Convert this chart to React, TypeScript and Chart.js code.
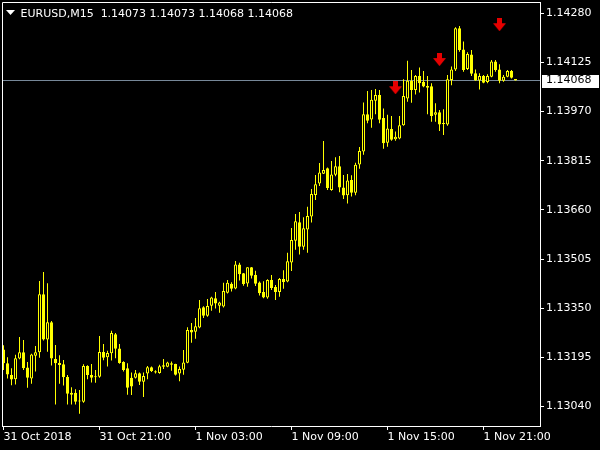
import React, { useEffect, useRef } from 'react';
import { Chart, registerables } from 'chart.js';

Chart.register(...registerables);

const symbolLabel = 'EURUSD,M15';

const opens = [
  1.13220, 1.13176, 1.13139, 1.13126, 1.13191, 1.13211, 1.13163, 1.13128, 1.13200, 1.13211,
  1.13394, 1.13251, 1.13306, 1.13190, 1.13177, 1.13173, 1.13133, 1.13083, 1.13083, 1.13056,
  1.13055, 1.13168, 1.13139, 1.13133, 1.13134, 1.13212, 1.13195, 1.13208, 1.13268, 1.13223,
  1.13180, 1.13161, 1.13131, 1.13131, 1.13145, 1.13118, 1.13144, 1.13164, 1.13151, 1.13146,
  1.13170, 1.13165, 1.13176, 1.13174, 1.13144, 1.13156, 1.13178, 1.13281, 1.13276, 1.13289,
  1.13353, 1.13326, 1.13358, 1.13381, 1.13358, 1.13355, 1.13399, 1.13427, 1.13412, 1.13488,
  1.13460, 1.13428, 1.13479, 1.13455, 1.13431, 1.13401, 1.13384, 1.13439, 1.13417, 1.13401,
  1.13442, 1.13434, 1.13494, 1.13563, 1.13621, 1.13544, 1.13598, 1.13639, 1.13707, 1.13743,
  1.13774, 1.13791, 1.13723, 1.13771, 1.13798, 1.13731, 1.13706, 1.13754, 1.13714, 1.13803,
  1.13844, 1.13962, 1.13945, 1.14004, 1.14022, 1.13950, 1.13872, 1.13915, 1.13883, 1.13885,
  1.13927, 1.14011, 1.14067, 1.14038, 1.14082, 1.14064, 1.14051, 1.14050, 1.13960, 1.13968,
  1.13932, 1.13929, 1.14070, 1.14103, 1.14233, 1.14166, 1.14104, 1.14150, 1.14091, 1.14068,
  1.14082, 1.14063, 1.14080, 1.14128, 1.14103, 1.14067, 1.14080, 1.14098, 1.14073,
];

const highs = [
  1.13233, 1.13195, 1.13161, 1.13203, 1.13259, 1.13250, 1.13180, 1.13206, 1.13231, 1.13436,
  1.13464, 1.13429, 1.13310, 1.13234, 1.13202, 1.13187, 1.13139, 1.13101, 1.13094, 1.13092,
  1.13173, 1.13170, 1.13174, 1.13155, 1.13262, 1.13237, 1.13216, 1.13279, 1.13272, 1.13237,
  1.13183, 1.13176, 1.13147, 1.13155, 1.13147, 1.13147, 1.13168, 1.13166, 1.13154, 1.13172,
  1.13190, 1.13181, 1.13182, 1.13175, 1.13166, 1.13218, 1.13290, 1.13303, 1.13319, 1.13376,
  1.13356, 1.13379, 1.13386, 1.13401, 1.13370, 1.13430, 1.13439, 1.13432, 1.13499, 1.13493,
  1.13461, 1.13479, 1.13480, 1.13468, 1.13434, 1.13435, 1.13441, 1.13455, 1.13423, 1.13445,
  1.13470, 1.13525, 1.13603, 1.13647, 1.13653, 1.13637, 1.13670, 1.13726, 1.13770, 1.13808,
  1.13877, 1.13794, 1.13814, 1.13826, 1.13830, 1.13770, 1.13773, 1.13769, 1.13809, 1.13858,
  1.13999, 1.14035, 1.14038, 1.14041, 1.14038, 1.13980, 1.13960, 1.13956, 1.13907, 1.13956,
  1.14072, 1.14130, 1.14101, 1.14085, 1.14109, 1.14098, 1.14082, 1.14059, 1.13996, 1.13975,
  1.13977, 1.14085, 1.14112, 1.14236, 1.14240, 1.14191, 1.14157, 1.14164, 1.14103, 1.14091,
  1.14085, 1.14088, 1.14133, 1.14133, 1.14119, 1.14085, 1.14101, 1.14101, 1.14073,
];

const lows = [
  1.13155, 1.13128, 1.13107, 1.13109, 1.13189, 1.13155, 1.13099, 1.13112, 1.13150, 1.13194,
  1.13248, 1.13213, 1.13169, 1.13046, 1.13112, 1.13106, 1.13046, 1.13046, 1.13046, 1.13017,
  1.13052, 1.13126, 1.13116, 1.13115, 1.13131, 1.13186, 1.13166, 1.13185, 1.13192, 1.13175,
  1.13150, 1.13077, 1.13076, 1.13128, 1.13108, 1.13070, 1.13126, 1.13149, 1.13144, 1.13143,
  1.13158, 1.13164, 1.13153, 1.13138, 1.13120, 1.13140, 1.13176, 1.13241, 1.13254, 1.13287,
  1.13319, 1.13323, 1.13342, 1.13349, 1.13336, 1.13352, 1.13396, 1.13403, 1.13410, 1.13437,
  1.13421, 1.13418, 1.13444, 1.13420, 1.13390, 1.13381, 1.13380, 1.13407, 1.13376, 1.13386,
  1.13411, 1.13432, 1.13467, 1.13534, 1.13519, 1.13534, 1.13525, 1.13620, 1.13691, 1.13735,
  1.13773, 1.13723, 1.13720, 1.13766, 1.13716, 1.13694, 1.13680, 1.13702, 1.13706, 1.13790,
  1.13834, 1.13933, 1.13919, 1.13962, 1.13933, 1.13853, 1.13859, 1.13878, 1.13878, 1.13883,
  1.13925, 1.14001, 1.13998, 1.14024, 1.14030, 1.14047, 1.13962, 1.13938, 1.13938, 1.13909,
  1.13896, 1.13925, 1.14053, 1.14098, 1.14159, 1.14096, 1.14101, 1.14082, 1.14067, 1.14040,
  1.14059, 1.14059, 1.14078, 1.14096, 1.14059, 1.14064, 1.14078, 1.14074, 1.14068,
];

const closes = [
  1.13176, 1.13141, 1.13125, 1.13192, 1.13211, 1.13161, 1.13131, 1.13204, 1.13211, 1.13394,
  1.13251, 1.13306, 1.13191, 1.13176, 1.13171, 1.13132, 1.13080, 1.13077, 1.13055, 1.13057,
  1.13168, 1.13139, 1.13131, 1.13132, 1.13212, 1.13194, 1.13209, 1.13272, 1.13222, 1.13177,
  1.13155, 1.13099, 1.13103, 1.13145, 1.13118, 1.13136, 1.13164, 1.13152, 1.13147, 1.13167,
  1.13165, 1.13179, 1.13172, 1.13140, 1.13158, 1.13179, 1.13281, 1.13273, 1.13293, 1.13350,
  1.13326, 1.13357, 1.13384, 1.13365, 1.13368, 1.13404, 1.13430, 1.13411, 1.13488, 1.13457,
  1.13426, 1.13479, 1.13452, 1.13427, 1.13397, 1.13384, 1.13439, 1.13414, 1.13401, 1.13442,
  1.13433, 1.13498, 1.13565, 1.13624, 1.13544, 1.13602, 1.13641, 1.13710, 1.13741, 1.13778,
  1.13786, 1.13729, 1.13772, 1.13798, 1.13731, 1.13705, 1.13753, 1.13714, 1.13802, 1.13846,
  1.13962, 1.13941, 1.14007, 1.14022, 1.13944, 1.13870, 1.13917, 1.13881, 1.13891, 1.13927,
  1.14019, 1.14067, 1.14038, 1.14082, 1.14059, 1.14049, 1.14045, 1.13956, 1.13968, 1.13929,
  1.13931, 1.14072, 1.14103, 1.14233, 1.14164, 1.14101, 1.14152, 1.14089, 1.14068, 1.14082,
  1.14061, 1.14082, 1.14128, 1.14101, 1.14067, 1.14080, 1.14098, 1.14077, 1.14068,
];

const timeTickIndex = [0, 24, 48, 72, 96, 120];
const timeTickLabels = ['31 Oct 2018', '31 Oct 21:00', '1 Nov 03:00', '1 Nov 09:00', '1 Nov 15:00', '1 Nov 21:00'];

const priceTicks = [1.13040, 1.13195, 1.13350, 1.13505, 1.13660, 1.13815, 1.13970, 1.14125, 1.14280];
const priceMin = 1.129785;
const priceMax = 1.143156;

const arrowIndex = [98, 109, 124];
const arrowPrice = [1.14045, 1.14134, 1.14244];

const xMin = -0.375;
const xMax = 134.125;

const YELLOW = 'rgb(255,255,0)';
const WHITE = '#ffffff';
const FONT = '"DejaVu Sans", "Liberation Sans", sans-serif';

function makeArrow(): HTMLCanvasElement {
  const c = document.createElement('canvas');
  c.width = 13;
  c.height = 13;
  const g = c.getContext('2d')!;
  g.fillStyle = 'rgb(230,0,0)';
  g.beginPath();
  g.moveTo(4, 0);
  g.lineTo(9, 0);
  g.lineTo(9, 5);
  g.lineTo(13, 5);
  g.lineTo(6.5, 13);
  g.lineTo(0, 5);
  g.lineTo(4, 5);
  g.closePath();
  g.fill();
  return c;
}

export default function App() {
  const ref = useRef<HTMLCanvasElement>(null);

  useEffect(() => {
    const canvas = ref.current;
    if (!canvas) return;
    const idx = closes.map((_, i) => i);
    const bodies = idx.map((i) => ({ x: i, y: [opens[i], closes[i]] }));
    const wicks = idx.map((i) => ({ x: i, y: [lows[i], highs[i]] }));
    const bull = idx.map((i) => closes[i] >= opens[i]);
    const arrows = arrowIndex.map((i, j) => ({ x: i, y: arrowPrice[j] }));
    const last = closes.length - 1;
    const bid = closes[last];
    const titleText =
      symbolLabel + '  ' +
      [opens[last], highs[last], lows[last], closes[last]].map((v) => v.toFixed(5)).join(' ');

    const overlay = {
      id: 'mtOverlay',
      beforeDraw(chart: any) {
        const ctx = chart.ctx;
        ctx.save();
        ctx.fillStyle = '#000';
        ctx.fillRect(0, 0, chart.width, chart.height);
        ctx.restore();
      },
      beforeDatasetsDraw(chart: any) {
        const ctx = chart.ctx;
        const a = chart.chartArea;
        const y = Math.round(chart.scales.y.getPixelForValue(bid) - 0.5) + 0.5;
        ctx.save();
        ctx.strokeStyle = 'rgb(119,136,153)';
        ctx.lineWidth = 1;
        ctx.beginPath();
        ctx.moveTo(a.left, y);
        ctx.lineTo(a.right, y);
        ctx.stroke();
        ctx.restore();
      },
      afterDatasetsDraw(chart: any) {
        const ctx = chart.ctx;
        const a = chart.chartArea;
        ctx.save();
        ctx.strokeStyle = WHITE;
        ctx.lineWidth = 1;
        ctx.beginPath();
        ctx.moveTo(a.left + 0.5, a.bottom);
        ctx.lineTo(a.left + 0.5, a.top + 0.5);
        ctx.lineTo(a.right, a.top + 0.5);
        ctx.stroke();
        // title
        ctx.fillStyle = WHITE;
        ctx.beginPath();
        ctx.moveTo(6, 10);
        ctx.lineTo(15, 10);
        ctx.lineTo(10.5, 15);
        ctx.closePath();
        ctx.fill();
        ctx.font = '11px ' + FONT;
        ctx.textBaseline = 'alphabetic';
        ctx.textAlign = 'left';
        ctx.fillText(titleText, 20.5, 16.5);
        ctx.restore();
      },
      afterDraw(chart: any) {
        const ctx = chart.ctx;
        const a = chart.chartArea;
        const y = chart.scales.y.getPixelForValue(bid);
        ctx.save();
        ctx.fillStyle = WHITE;
        ctx.fillRect(a.right + 2, Math.round(y) - 6, 57, 13);
        ctx.fillStyle = '#000';
        ctx.font = '11px ' + FONT;
        ctx.textBaseline = 'middle';
        ctx.textAlign = 'left';
        ctx.fillText(bid.toFixed(5), a.right + 6, y);
        ctx.restore();
      },
    };

    const chart = new Chart(canvas, {
      type: 'bar',
      data: {
        datasets: [
          {
            type: 'line',
            data: arrows as any,
            showLine: false,
            pointStyle: makeArrow() as any,
            pointRadius: 6,
            order: 0,
          } as any,
          {
            type: 'bar',
            data: bodies as any,
            backgroundColor: bull.map((b) => (b ? '#000000' : YELLOW)),
            borderColor: YELLOW,
            borderWidth: 1,
            borderSkipped: false,
            barThickness: 3,
            maxBarThickness: 3,
            grouped: false,
            inflateAmount: 0,
            minBarLength: 1,
            order: 1,
          } as any,
          {
            type: 'bar',
            data: wicks as any,
            backgroundColor: YELLOW,
            borderWidth: 0,
            barThickness: 1,
            maxBarThickness: 1,
            grouped: false,
            inflateAmount: 0,
            order: 2,
          } as any,
        ],
      },
      options: {
        animation: false,
        responsive: false,
        devicePixelRatio: 1,
        events: [],
        layout: { autoPadding: false, padding: { left: 2, top: 2, right: 0, bottom: 0 } },
        plugins: {
          legend: { display: false },
          tooltip: { enabled: false },
          title: { display: false },
        },
        scales: {
          x: {
            type: 'linear',
            position: 'bottom',
            offset: false,
            min: xMin,
            max: xMax,
            grid: { display: true, offset: false, drawOnChartArea: false, drawTicks: true, tickLength: 4, color: WHITE, lineWidth: 1 },
            border: { display: true, color: WHITE, width: 1 },
            ticks: {
              autoSkip: false,
              maxRotation: 0,
              minRotation: 0,
              align: 'start',
              color: WHITE,
              padding: 1,
              font: { family: FONT, size: 11 },
              callback: (v: any) => {
                const j = timeTickIndex.indexOf(Number(v));
                return j >= 0 ? timeTickLabels[j] : '';
              },
            },
            afterBuildTicks: (s: any) => {
              s.ticks = timeTickIndex.map((v) => ({ value: v }));
            },
            afterFit: (s: any) => {
              s.height = 24;
              s.paddingLeft = 0;
              s.paddingRight = 0;
            },
          } as any,
          y: {
            type: 'linear',
            position: 'right',
            offset: false,
            min: priceMin,
            max: priceMax,
            grid: { display: true, drawOnChartArea: false, drawTicks: true, tickLength: 4, color: WHITE, lineWidth: 1 },
            border: { display: true, color: WHITE, width: 1 },
            ticks: {
              color: WHITE,
              padding: 2,
              font: { family: FONT, size: 11 },
              callback: (v: any) => Number(v).toFixed(5),
            },
            afterBuildTicks: (s: any) => {
              s.ticks = priceTicks.map((v) => ({ value: v }));
            },
            afterFit: (s: any) => {
              s.width = 60;
              s.paddingTop = 0;
              s.paddingBottom = 0;
            },
          } as any,
        },
      },
      plugins: [overlay],
    });

    return () => chart.destroy();
  }, []);

  return (
    <div style={{ position: 'fixed', left: 0, top: 0, width: 600, height: 450, background: '#000' }}>
      <canvas ref={ref} width={600} height={450} style={{ display: 'block', width: 600, height: 450 }} />
    </div>
  );
}
